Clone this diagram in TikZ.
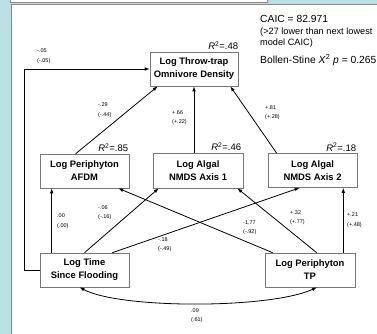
\documentclass[tikz,border=0pt]{standalone}
\usepackage{fontspec}
\setmainfont{Liberation Sans}
\usetikzlibrary{arrows.meta,calc}
\definecolor{bgblue}{HTML}{BCDFE3}
\definecolor{framegray}{HTML}{8A8A8A}
\definecolor{boxgray}{HTML}{777777}
\begin{document}
\begin{tikzpicture}[x=1pt,y=-1pt,
  box/.style={draw=boxgray, line width=0.6pt, fill=white, minimum width=89pt, minimum height=34pt, align=center, font=\fontsize{9.4}{13}\selectfont\bfseries, inner sep=0pt},
  arr/.style={line width=0.8pt, -{Latex[length=5pt,width=3.6pt]}},
  coef/.style={font=\fontsize{5.5}{9.5}\selectfont, anchor=west, inner sep=0pt, align=left},
  rsq/.style={font=\fontsize{9.5}{10}\selectfont, anchor=south east, inner sep=0pt},
  info/.style={anchor=west, inner sep=0pt}]
\useasboundingbox (0,0) rectangle (377,334);
% background
\fill[bgblue] (0,0) rectangle (377,334);
\filldraw[fill=white, draw=framegray, line width=0.7pt] (10,-3) rectangle (267,2.5);
\fill[white] (11,5) rectangle (378,336);
\draw[framegray, line width=1pt] (11,336) -- (11,5) -- (378,5);
% boxes
\node[box, minimum width=88pt] (omni) at (194,69) {Log Throw-trap\\Omnivore Density};
\node[box] (afdm) at (84.5,171) {Log Periphyton\\AFDM};
\node[box, minimum width=90pt, minimum height=35pt] (n1) at (198,170.5) {Log Algal\\NMDS Axis 1};
\node[box] (n2) at (312.5,170.5) {Log Algal\\NMDS Axis 2};
\node[box] (time) at (84.5,270) {Log Time\\Since Flooding};
\node[box, minimum width=90pt] (tp) at (310,270) {Log Periphyton\\TP};
% R squared
\node[rsq] (r48) at ([yshift=1.5pt]omni.north east) {\textit{R}\textsuperscript{2}=.48};
\node[rsq] (r85) at ([yshift=1.5pt,xshift=-1pt]afdm.north east) {\textit{R}\textsuperscript{2}=.85};
\node[rsq] (r46) at ([yshift=1.5pt,xshift=-2pt]n1.north east) {\textit{R}\textsuperscript{2}=.46};
\node[rsq] (r18) at ([yshift=1.5pt,xshift=-1pt]n2.north east) {\textit{R}\textsuperscript{2}=.18};
% info text
\node[info, font=\fontsize{10.3}{12}\selectfont] (caic) at (260,19) {CAIC = 82.971};
\node[info, font=\fontsize{9.2}{11}\selectfont] (lower) at (260,32) {(>27 lower than next lowest};
\node[info, font=\fontsize{9.2}{11}\selectfont] (model) at (260,43) {model CAIC)};
\node[info, font=\fontsize{10.3}{12}\selectfont] (bs) at (260,60) {Bollen-Stine \textit{X}\textsuperscript{2} \textit{p} = 0.265};
% connectors
\coordinate (lp) at ([xshift=-15pt]time.west);
\draw[arr] (time.west) -- (lp) |- (omni.west);
\draw[arr] ([xshift=36pt]afdm.north west) -- ([xshift=8pt]omni.south west);
\draw[arr] (omni.south |- n1.north) -- (omni.south);
\draw[arr] ([xshift=9pt]n2.north west) -- ([xshift=-8pt]omni.south east);
\draw[arr] ([xshift=12pt]time.north west) -- ([xshift=12pt]afdm.south west);
\draw[arr] (time.north) -- ([xshift=6pt]n1.south west);
\draw[arr] ([xshift=-17pt]time.north east) -- ([xshift=32pt]n2.south west);
\draw[arr] ([xshift=8pt]tp.north west) -- ([xshift=-11pt]afdm.south east);
\draw[arr] ([xshift=52pt]tp.north west) -- ([xshift=-6pt]n1.south east);
\draw[arr] ([xshift=-12pt]tp.north east) -- ([xshift=-12pt]tp.north east |- n2.south);
\draw[line width=0.8pt, {Latex[length=5pt,width=3.6pt]}-{Latex[length=5pt,width=3.6pt]}]
  ([xshift=-5pt]time.south) .. controls (120,309) and (270,309) .. ([xshift=7pt]tp.south);
% coefficients
\node[coef] (c1) at (37,56) {-.05\\(-.05)};
\node[coef] (c2) at (98,110) {-.29\\(-.44)};
\node[coef] (c3) at (172,117.5) {+.66\\(+.22)};
\node[coef] (c4) at (265,112.5) {+.81\\(+.28)};
\node[coef] (c5) at (57,221) {.00\\(.00)};
\node[coef] (c6) at (98,212.5) {-.06\\(-.16)};
\node[coef] (c7) at (158,244.5) {-.18\\(-.49)};
\node[coef] (c8) at (243,227.5) {-1.77\\(-.92)};
\node[coef] (c9) at (290,217.5) {+.32\\(+.77)};
\node[coef] (c10) at (347,220) {+.21\\(+.48)};
\node[coef] (c11) at (191,315.5) {.09\\(.61)};
\end{tikzpicture}
\end{document}
